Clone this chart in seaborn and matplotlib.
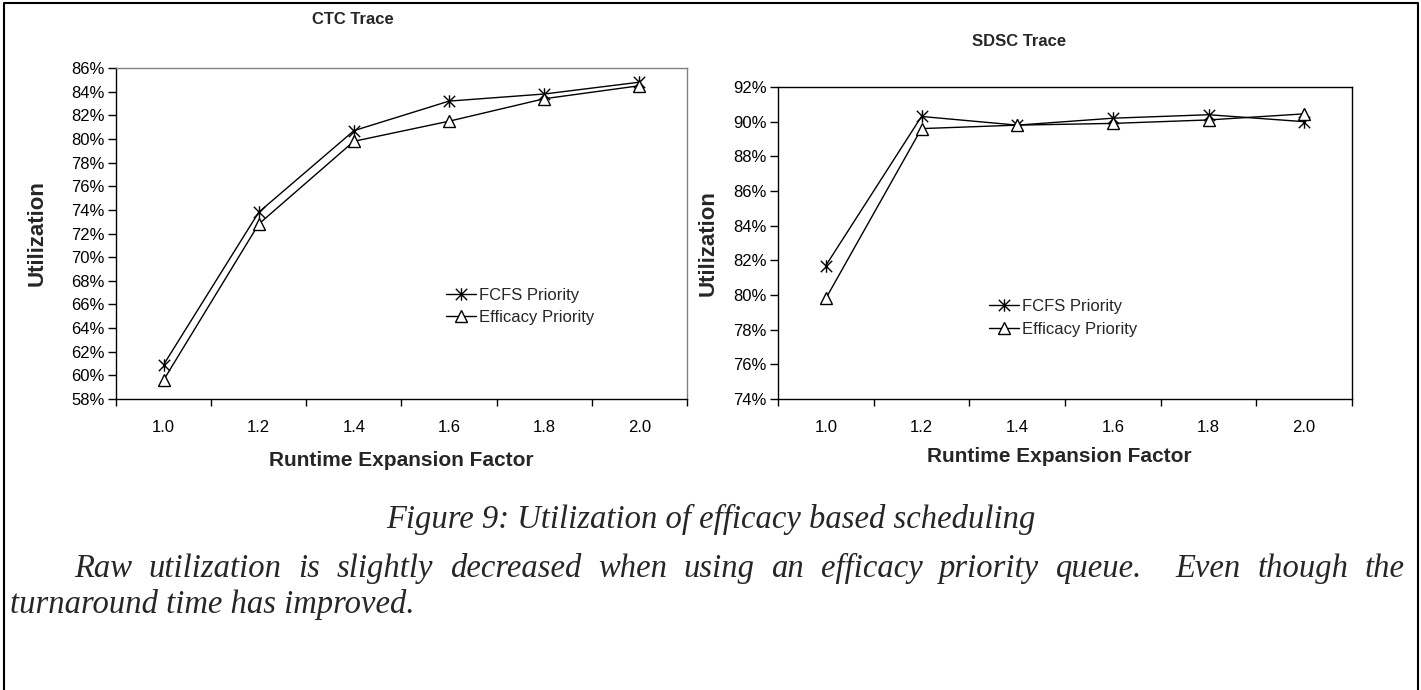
import numpy as np
import pandas as pd
import matplotlib
matplotlib.use("Agg")
import matplotlib.pyplot as plt
import seaborn as sns
from matplotlib.path import Path
from matplotlib.lines import Line2D
from matplotlib.ticker import PercentFormatter

# values
factors = ["1.0", "1.2", "1.4", "1.6", "1.8", "2.0"]
series_names = ["FCFS Priority", "Efficacy Priority"]
ctc_fcfs = [60.9, 73.8, 80.7, 83.2, 83.8, 84.8]
ctc_efficacy = [59.6, 72.8, 79.8, 81.5, 83.4, 84.5]
sdsc_fcfs = [81.7, 90.3, 89.8, 90.2, 90.4, 90.0]
sdsc_efficacy = [79.8, 89.6, 89.8, 89.9, 90.1, 90.45]
ctc_ticks = list(range(58, 87, 2))
sdsc_ticks = list(range(74, 93, 2))

caption = "Figure 9: Utilization of efficacy based scheduling"
para_line1 = "Raw utilization is slightly decreased when using an efficacy priority queue.  Even though the"
para_line2 = "turnaround time has improved."

sns.set_theme(style="white")
plt.rcParams["font.family"] = ["Liberation Sans", "DejaVu Sans"]

W, H = 1421, 690
fig = plt.figure(figsize=(W / 100, H / 100), dpi=100)


def box(l, t, r, b):
    return [l / W, 1 - b / H, (r - l) / W, (b - t) / H]


# excel style star marker: an x with a vertical bar
star = Path([(-1, -1), (1, 1), (-1, 1), (1, -1), (0, -1.1), (0, 1.1)],
            [Path.MOVETO, Path.LINETO] * 3)


def make_df(a, b):
    return pd.DataFrame({
        "pos": np.tile(np.arange(len(factors)), 2),
        "util": a + b,
        "series": np.repeat(series_names, len(factors)),
    })


def draw_panel(ax, df, ticks, legend_xy, edge_col):
    sns.lineplot(data=df, x="pos", y="util", style="series", style_order=series_names,
                 markers={series_names[0]: star, series_names[1]: "^"}, dashes=False,
                 color="black", linewidth=1, markersize=9, markerfacecolor="white",
                 markeredgecolor="black", markeredgewidth=1, legend=False, ax=ax)
    ax.set_xlim(-0.5, len(factors) - 0.5)
    ax.set_ylim(ticks[0], ticks[-1])
    ax.set_xticks(np.arange(len(factors)))
    ax.set_xticklabels(factors)
    ax.set_xticks(np.arange(len(factors) + 1) - 0.5, minor=True)
    ax.set_yticks(ticks)
    ax.yaxis.set_major_formatter(PercentFormatter(xmax=100, decimals=0))
    ax.tick_params(axis="x", which="major", length=0, pad=15, labelsize=12, colors="black")
    ax.tick_params(axis="x", which="minor", length=5, width=1, direction="out",
                   bottom=True, color="black")
    ax.tick_params(axis="y", length=6, width=1, direction="out", left=True, pad=2,
                   labelsize=12, colors="black")
    ax.set_xlabel("")
    ax.set_ylabel("")
    ax.grid(False)
    ax.set_facecolor("white")
    for side in ["left", "bottom"]:
        ax.spines[side].set_color("black")
        ax.spines[side].set_linewidth(1)
    for side in ["top", "right"]:
        ax.spines[side].set_color(edge_col)
        ax.spines[side].set_linewidth(1)
    ax.legend(handles=ax.lines[:2], labels=series_names, loc="center left",
              bbox_to_anchor=legend_xy, frameon=False, fontsize=12, handlelength=1.8,
              handletextpad=0.2, labelspacing=0.45, borderpad=0, borderaxespad=0)


ax1 = fig.add_axes(box(116, 68, 687, 399))
draw_panel(ax1, make_df(ctc_fcfs, ctc_efficacy), ctc_ticks,
           ((446 - 116) / 571, (399 - 306.5) / 331), "#808080")

ax2 = fig.add_axes(box(778, 87, 1352, 399))
draw_panel(ax2, make_df(sdsc_fcfs, sdsc_efficacy), sdsc_ticks,
           ((989 - 778) / 574, (399 - 318) / 312), "black")


def ftext(x, y, s, **kw):
    return fig.text(x / W, 1 - y / H, s, **kw)


ftext(353, 19, "CTC Trace", ha="center", va="center", fontsize=12, fontweight="bold")
ftext(1019, 41, "SDSC Trace", ha="center", va="center", fontsize=12, fontweight="bold")
ftext(37, 233, "Utilization", ha="center", va="center", rotation=90, fontsize=16, fontweight="bold")
ftext(708, 243, "Utilization", ha="center", va="center", rotation=90, fontsize=16, fontweight="bold")
ftext(401, 460, "Runtime Expansion Factor", ha="center", va="center", fontsize=15, fontweight="bold")
ftext(1059, 457, "Runtime Expansion Factor", ha="center", va="center", fontsize=15, fontweight="bold")

serif = dict(family=["Liberation Serif", "DejaVu Serif"], style="italic", fontsize=23.5)
ftext(711, 528, caption, ha="center", va="baseline", **serif)

# justified first line of the paragraph
renderer = fig.canvas.get_renderer()
words = para_line1.replace("  ", " _ ").split(" ")
left, right = 74, 1405
widths = []
for w in words:
    if w == "_":
        widths.append(0)
        continue
    t = ftext(0, 0, w, **serif)
    widths.append(t.get_window_extent(renderer).width)
    t.remove()
gap = (right - left - sum(widths)) / (len(words) - 1)
x = left
for w, wd in zip(words, widths):
    if w != "_":
        ftext(x, 577, w, ha="left", va="baseline", **serif)
    x += wd + gap
ftext(10, 613, para_line2, ha="left", va="baseline", **serif)

# page frame around the figure
fig.add_artist(Line2D([4 / W, 4 / W, 1418 / W, 1418 / W], [0, 1 - 3 / H, 1 - 3 / H, 0],
                      color="black", linewidth=1.5, transform=fig.transFigure))

fig.savefig("out.png", dpi=100, facecolor="white")
